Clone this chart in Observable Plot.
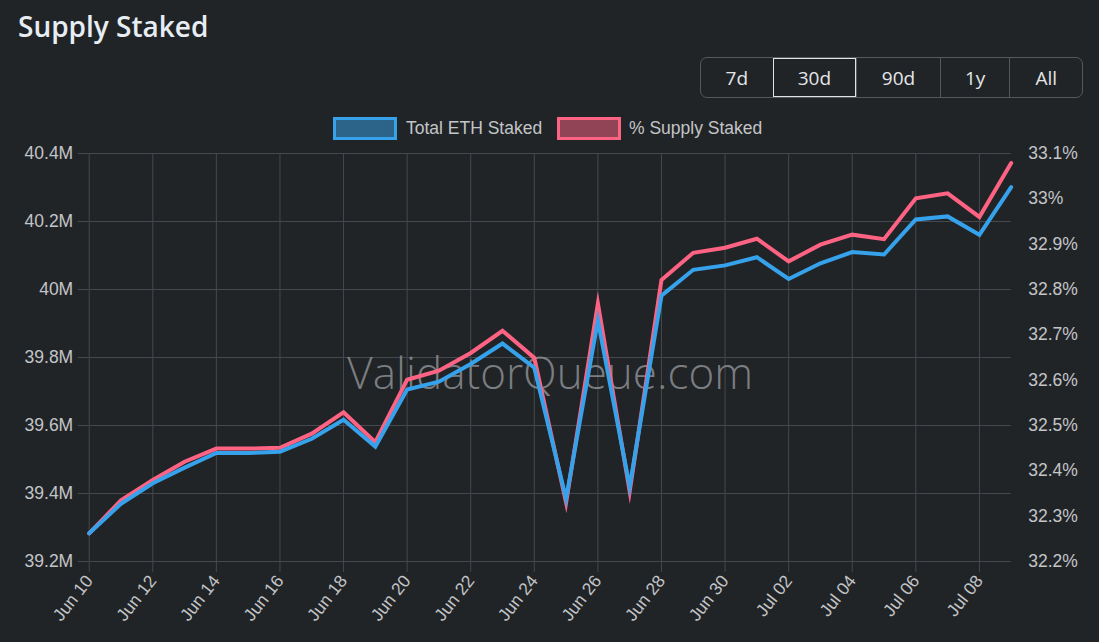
<!DOCTYPE html>
<html>
<head>
<meta charset="utf-8">
<script src="https://cdn.jsdelivr.net/npm/d3@7"></script>
<script src="https://cdn.jsdelivr.net/npm/@observablehq/plot@0.6"></script>
<style>
  html, body { margin: 0; padding: 0; background: #212427; }
  #wrap { position: relative; width: 1099px; height: 642px; overflow: hidden; background: #212427; }
  #chart { position: absolute; left: 0; top: 0; }
  .title { position: absolute; left: 18px; top: 6px; font-family: "Open Sans", "Noto Sans", sans-serif; font-weight: 600; font-size: 28px; line-height: 40px; color: #e6edf3; }
  .btns { position: absolute; left: 700px; top: 57px; width: 383px; height: 41px; box-sizing: border-box; border: 1.5px solid #55595e; border-radius: 7px; display: flex; overflow: hidden; }
  .btn { box-sizing: border-box; height: 100%; display: flex; align-items: center; justify-content: center; font-family: "Open Sans", "Noto Sans", sans-serif; font-size: 19px; color: #e4e6e8; border-left: 1.5px solid #55595e; }
  .btn:first-child { border-left: none; }
  .btn.active { border: 1.5px solid #e2e2e2; }
  .lg-sw { position: absolute; top: 117px; width: 64px; height: 23px; box-sizing: border-box; border: 3.5px solid; }
  .lg-tx { position: absolute; top: 116px; line-height: 24px; font-family: "Liberation Sans", Arial, sans-serif; font-size: 17.5px; color: #c3c5c7; white-space: nowrap; }
</style>
</head>
<body>
<div id="wrap">
  <div id="chart"></div>
  <div class="title">Supply Staked</div>
  <div class="btns" id="btns"></div>
  <div id="legend"></div>
</div>
<script>
// ---- data ----
const dates = [
  "2024-06-10","2024-06-11","2024-06-12","2024-06-13","2024-06-14","2024-06-15",
  "2024-06-16","2024-06-17","2024-06-18","2024-06-19","2024-06-20","2024-06-21",
  "2024-06-22","2024-06-23","2024-06-24","2024-06-25","2024-06-26","2024-06-27",
  "2024-06-28","2024-06-29","2024-06-30","2024-07-01","2024-07-02","2024-07-03",
  "2024-07-04","2024-07-05","2024-07-06","2024-07-07","2024-07-08","2024-07-09"
];
// Total ETH staked, millions (left axis)
const totalStaked = [
  39.283, 39.370, 39.430, 39.476, 39.519, 39.519,
  39.523, 39.561, 39.617, 39.538, 39.706, 39.729,
  39.781, 39.841, 39.770, 39.385, 39.909, 39.420,
  39.982, 40.058, 40.071, 40.095, 40.031, 40.077,
  40.110, 40.103, 40.206, 40.215, 40.161, 40.301
];
// % of supply staked (right axis)
const pctStaked = [
  32.262, 32.335, 32.380, 32.420, 32.449, 32.449,
  32.451, 32.482, 32.529, 32.463, 32.601, 32.621,
  32.660, 32.709, 32.649, 32.330, 32.769, 32.355,
  32.821, 32.881, 32.892, 32.912, 32.862, 32.899,
  32.921, 32.911, 33.001, 33.012, 32.960, 33.079
];
const leftTicks = [39.2, 39.4, 39.6, 39.8, 40.0, 40.2, 40.4];
const rightTicks = [32.2, 32.3, 32.4, 32.5, 32.6, 32.7, 32.8, 32.9, 33.0, 33.1];
const xTickDates = [
  "2024-06-10","2024-06-12","2024-06-14","2024-06-16","2024-06-18","2024-06-20",
  "2024-06-22","2024-06-24","2024-06-26","2024-06-28","2024-06-30","2024-07-02",
  "2024-07-04","2024-07-06","2024-07-08"
];
const seriesNames = ["Total ETH Staked", "% Supply Staked"];
const ranges = ["7d", "30d", "90d", "1y", "All"];
const activeRange = "30d";
const watermark = "ValidatorQueue.com";

// ---- styling ----
const BLUE = "#36a2eb", PINK = "#ff6384";
const GRID = "#45484c", TEXT = "#c3c5c7";
const leftDomain = [leftTicks[0], leftTicks[leftTicks.length - 1]];
const rightDomain = [rightTicks[0], rightTicks[rightTicks.length - 1]];
const toLeft = p => leftDomain[0] + (p - rightDomain[0]) * (leftDomain[1] - leftDomain[0]) / (rightDomain[1] - rightDomain[0]);
const toRight = y => rightDomain[0] + (y - leftDomain[0]) * (rightDomain[1] - rightDomain[0]) / (leftDomain[1] - leftDomain[0]);

const parse = d3.utcParse("%Y-%m-%d");
const data = dates.map((d, i) => ({date: parse(d), total: totalStaked[i], pct: pctStaked[i]}));
const xTicks = xTickDates.map(parse);
const fmtDate = d3.utcFormat("%b %d");

const chart = Plot.plot({
  width: 1099,
  height: 642,
  marginTop: 153,
  marginBottom: 81,
  marginLeft: 88.7,
  marginRight: 88.3,
  style: {background: "transparent", color: TEXT, fontSize: "17.5px", fontFamily: "'Liberation Sans', Arial, sans-serif", overflow: "visible"},
  x: {type: "utc", domain: [data[0].date, data[data.length - 1].date]},
  y: {domain: leftDomain},
  marks: [
    Plot.gridY(leftTicks, {stroke: GRID, strokeOpacity: 1, strokeWidth: 1}),
    Plot.gridX(xTicks, {stroke: GRID, strokeOpacity: 1, strokeWidth: 1}),
    Plot.axisY(leftTicks, {anchor: "left", tickSize: 11, tickPadding: 5, stroke: GRID, fill: TEXT, fontSize: 17.5,
      tickFormat: d => `${+d.toFixed(1)}M`, label: null}),
    Plot.axisY(rightTicks.map(toLeft), {anchor: "right", tickSize: 0, tickPadding: 17, fill: TEXT, fontSize: 17.5,
      tickFormat: d => `${+toRight(d).toFixed(1)}%`, label: null}),
    Plot.axisX(xTicks, {anchor: "bottom", tickSize: 11, tickPadding: 5, tickRotate: -52, stroke: GRID, fill: TEXT, fontSize: 17.5,
      tickFormat: fmtDate, label: null}),
    Plot.text([watermark], {frameAnchor: "middle", dy: 17, text: d => d, fontSize: 44, fontWeight: 300,
      fontFamily: "'Open Sans', 'Noto Sans', sans-serif", fill: "#8b8e92", fillOpacity: 0.85}),
    Plot.lineY(data, {x: "date", y: d => toLeft(d.pct), stroke: PINK, strokeWidth: 4, strokeLinejoin: "miter", strokeMiterlimit: 10, curve: "linear"}),
    Plot.lineY(data, {x: "date", y: "total", stroke: BLUE, strokeWidth: 4, strokeLinejoin: "miter", strokeMiterlimit: 10, curve: "linear"})
  ]
});
document.getElementById("chart").appendChild(chart);

// buttons
const widths = [72, 84, 84, 70, 73];
const btns = document.getElementById("btns");
ranges.forEach((r, i) => {
  const b = document.createElement("div");
  b.className = "btn" + (r === activeRange ? " active" : "");
  b.style.width = widths[i] + "px";
  b.textContent = r;
  btns.appendChild(b);
});

// legend
const legend = document.getElementById("legend");
const legendItems = [
  {name: seriesNames[0], color: BLUE, fill: "rgba(54,162,235,0.5)", sw: 333, tx: 406},
  {name: seriesNames[1], color: PINK, fill: "rgba(255,99,132,0.5)", sw: 557, tx: 629}
];
legendItems.forEach(it => {
  const s = document.createElement("div");
  s.className = "lg-sw";
  s.style.left = it.sw + "px";
  s.style.borderColor = it.color;
  s.style.background = it.fill;
  legend.appendChild(s);
  const t = document.createElement("div");
  t.className = "lg-tx";
  t.style.left = it.tx + "px";
  t.textContent = it.name;
  legend.appendChild(t);
});
</script>
</body>
</html>
